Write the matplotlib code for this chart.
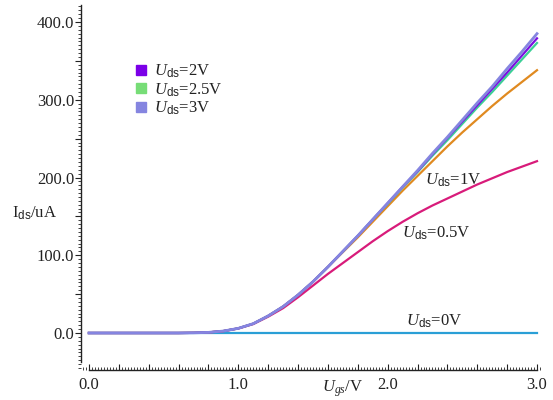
import matplotlib
matplotlib.use("Agg")
import matplotlib.pyplot as plt
from matplotlib.lines import Line2D
from matplotlib.ticker import MultipleLocator, FuncFormatter

plt.rcParams['font.family'] = ['Liberation Serif', 'DejaVu Serif']
plt.rcParams['mathtext.fontset'] = 'custom'
plt.rcParams['mathtext.rm'] = 'Liberation Serif'
plt.rcParams['mathtext.it'] = 'Liberation Serif:italic'
plt.rcParams['mathtext.sf'] = 'Liberation Sans'
plt.rcParams['text.color'] = '#222222'
plt.rcParams['xtick.color'] = '#222222'
plt.rcParams['ytick.color'] = '#222222'

# ---- data ----
vgs = [0.0, 0.1, 0.2, 0.3, 0.4, 0.5, 0.6, 0.7, 0.8, 0.9, 1.0,
       1.1, 1.2, 1.3, 1.4, 1.5, 1.6, 1.7, 1.8, 1.9, 2.0,
       2.1, 2.2, 2.3, 2.4, 2.5, 2.6, 2.7, 2.8, 2.9, 3.0]
ids_0V = [0] * 31
ids_05V = [0, 0, 0, 0, 0, 0, 0, 0.2, 0.8, 2.4, 5.8,
           11.5, 21, 32, 46, 61, 76, 90, 104, 118, 131,
           143, 154, 164, 173, 182, 191, 199, 207, 214, 221]
ids_1V = [0, 0, 0, 0, 0, 0, 0, 0.2, 0.8, 2.5, 6,
          12, 22, 34, 49, 66, 85, 104, 123, 143, 163,
          183, 202, 221, 240, 258, 275, 292, 308, 323, 338]
ids_2V = [0, 0, 0, 0, 0, 0, 0, 0.2, 0.8, 2.5, 6,
          12, 22, 34, 49, 66, 85, 105, 125, 146, 167,
          188, 208, 230, 251, 272, 293, 314, 335, 357, 379]
ids_25V = [0, 0, 0, 0, 0, 0, 0, 0.2, 0.8, 2.5, 6,
           12, 22, 34, 49, 66, 85, 105, 125, 146, 166,
           187, 207, 228, 248, 269, 290, 310, 331, 352, 373]
ids_3V = [0, 0, 0, 0, 0, 0, 0, 0.2, 0.8, 2.5, 6,
          12, 22, 34, 49, 66, 85, 105, 125, 146, 167,
          188, 209, 231, 252, 274, 296, 317, 340, 362, 385]

legend_labels = [r'$\mathit{U}_{\mathsf{ds}}$=2V', r'$\mathit{U}_{\mathsf{ds}}$=2.5V', r'$\mathit{U}_{\mathsf{ds}}$=3V']
legend_colors = ['#7b00e8', '#77dd77', '#8585e0']

# ---- figure ----
W, H = 553, 400
fig = plt.figure(figsize=(W / 100, H / 100), dpi=100)
ax = fig.add_axes([81 / W, 1 - 370 / H, (540 - 81) / W, (370 - 5) / H])

ax.plot(vgs, ids_0V, color='#2a9fd6', lw=1.6)
ax.plot(vgs, ids_05V, color='#d81b7a', lw=1.6)
ax.plot(vgs, ids_1V, color='#e08a20', lw=1.6)
ax.plot(vgs, ids_25V, color='#3ccf96', lw=1.6)
ax.plot(vgs, ids_2V, color='#7a10e0', lw=1.6)
ax.plot(vgs, ids_3V, color='#8585e0', lw=2.0)

ax.set_xlim((81 - 89) / 149.333, (540 - 89) / 149.333)
ax.set_ylim((333 - 370) / 0.7775, (333 - 5) / 0.7775)

for s in ['top', 'right']:
    ax.spines[s].set_visible(False)
ax.spines['left'].set_bounds((333 - 362) / 0.7775, (333 - 5) / 0.7775)
ax.spines['bottom'].set_bounds(0, 3.0)
for s in ['left', 'bottom']:
    ax.spines[s].set_linewidth(1.0)
    ax.spines[s].set_color('#222222')

ax.xaxis.set_major_locator(MultipleLocator(0.2))
ax.xaxis.set_minor_locator(MultipleLocator(0.02))
ax.yaxis.set_major_locator(MultipleLocator(50))
ax.yaxis.set_minor_locator(MultipleLocator(5))

def xfmt(v, pos):
    return f'{v:.1f}' if abs(v - round(v)) < 1e-6 else ''

def yfmt(v, pos):
    return f'{v:.1f}' if abs(v % 100) < 1e-6 else ''

ax.xaxis.set_major_formatter(FuncFormatter(xfmt))
ax.yaxis.set_major_formatter(FuncFormatter(yfmt))
ax.tick_params(axis='x', which='major', direction='in', length=4, width=0.8, pad=5, labelsize=12)
ax.tick_params(axis='x', which='minor', direction='in', length=2, width=0.6)
ax.tick_params(axis='y', which='major', direction='out', length=4, width=0.8, pad=1, labelsize=12)
ax.tick_params(axis='y', which='minor', direction='out', length=2, width=0.6)

def dx(px):
    return (px - 89) / 149.333

def dy(py):
    return (333 - py) / 0.7775

ax.text(dx(425), dy(180), r'$\mathit{U}_{\mathsf{ds}}$=1V', fontsize=12, va='center', ha='left')
ax.text(dx(402), dy(233), r'$\mathit{U}_{\mathsf{ds}}$=0.5V', fontsize=12, va='center', ha='left')
ax.text(dx(406), dy(321), r'$\mathit{U}_{\mathsf{ds}}$=0V', fontsize=12, va='center', ha='left')

fig.text(12 / W, 1 - 213 / H, r'I$_{\mathsf{ds}}$/uA', fontsize=12, va='center', ha='left')
fig.text(322 / W, 1 - 389 / H, r'$\mathit{U}_{\mathit{gs}}$/V', fontsize=12, va='center', ha='left')

handles = [Line2D([], [], ls='none', marker='s', markersize=7, color=c) for c in legend_colors]
fig.legend(handles, legend_labels, loc='upper left', bbox_to_anchor=(136 / W, 1 - 63 / H),
           frameon=False, fontsize=12, handlelength=0.6, handletextpad=0.5,
           labelspacing=0.05, borderpad=0, borderaxespad=0)

fig.savefig('out.png', dpi=100)
